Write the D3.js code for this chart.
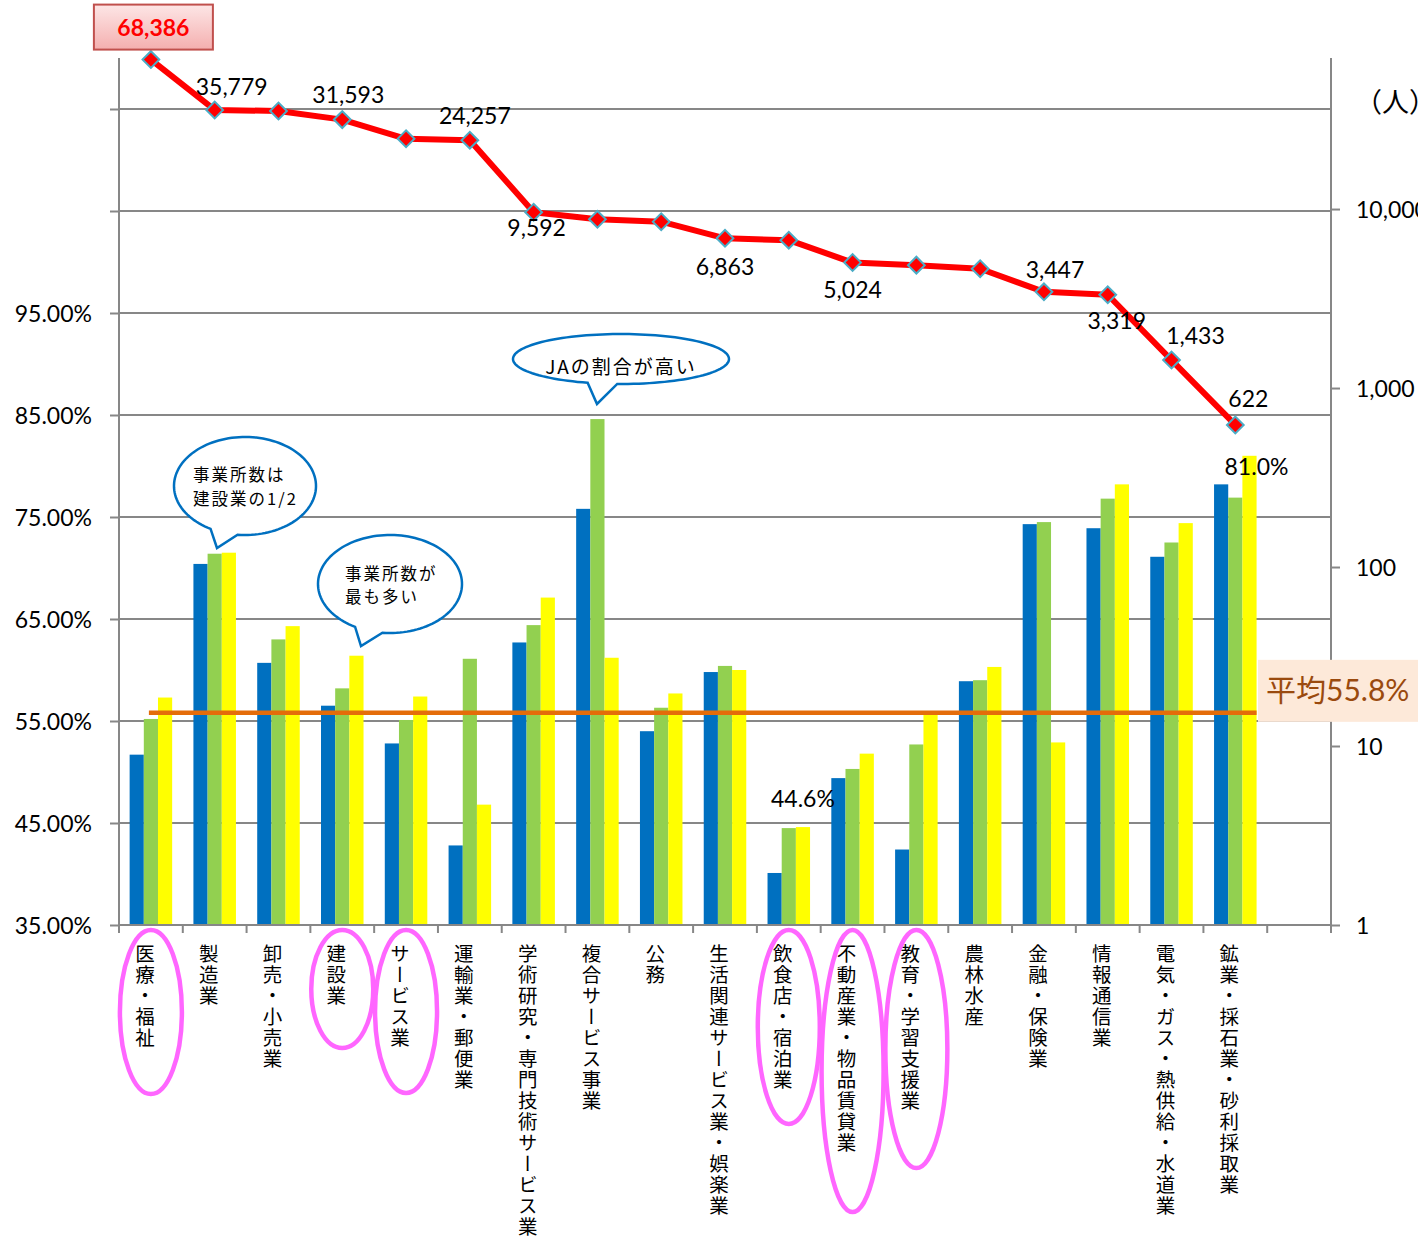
<!DOCTYPE html>
<html>
<head>
<meta charset="utf-8">
<script src="https://cdn.jsdelivr.net/npm/d3@7"></script>
<style>
  html, body { margin: 0; padding: 0; background: #fff; overflow: hidden; }
  svg { display: block; }
</style>
</head>
<body>
<svg id="chart" width="1418" height="1250"></svg>
<script>
// ---- data ----
const categories = [
  "医療・福祉", "製造業", "卸売・小売業", "建設業", "サービス業", "運輸業・郵便業",
  "学術研究・専門技術サービス業", "複合サービス事業", "公務", "生活関連サービス業・娯楽業",
  "飲食店・宿泊業", "不動産業・物品賃貸業", "教育・学習支援業", "農林水産", "金融・保険業",
  "情報通信業", "電気・ガス・熱供給・水道業", "鉱業・採石業・砂利採取業"
];
const seriesKeys = ["s1", "s2", "s3"];
const s1Values = [51.7, 70.4, 60.7, 56.5, 52.8, 42.8, 62.7, 75.8, 54.0, 59.8, 40.1, 49.4, 42.4, 58.9, 74.3, 73.9, 71.1, 78.2];
const s2Values = [55.2, 71.4, 63.0, 58.2, 55.1, 61.1, 64.4, 84.6, 56.3, 60.4, 44.5, 50.3, 52.7, 59.0, 74.5, 76.8, 72.5, 76.9];
const s3Values = [57.3, 71.5, 64.3, 61.4, 57.4, 46.8, 67.1, 61.2, 57.7, 60.0, 44.6, 51.8, 55.8, 60.3, 52.9, 78.2, 74.4, 81.0];
const workerCounts = [68386, 35779, 35300, 31593, 24700, 24257, 9592, 8760, 8500, 6863, 6700, 5024, 4860, 4640, 3447, 3319, 1433, 622];
const averageRate = 55.8;

const leftTicks = [35, 45, 55, 65, 75, 85, 95, 105, 115];
const leftTickLabels = ["35.00%", "45.00%", "55.00%", "65.00%", "75.00%", "85.00%", "95.00%", "", ""];
const rightTicks = [1, 10, 100, 1000, 10000];
const rightTickLabels = ["1", "10", "100", "1,000", "10,000"];

// ---- annotation layout ----
const countLabels = [
  { i: 1, dx: 17, dy: -15 }, { i: 3, dx: 6, dy: -17 }, { i: 5, dx: 5, dy: -16 },
  { i: 6, dx: 3, dy: 24 }, { i: 9, dx: 0, dy: 37 }, { i: 11, dx: 0, dy: 35 },
  { i: 14, dx: 11, dy: -14 }, { i: 15, dx: 9, dy: 34 }, { i: 16, dx: 24, dy: -16 },
  { i: 17, dx: 13, dy: -18 }
];
const rateLabels = [ { i: 10, key: "s3", dx: 0, dy: -20 }, { i: 17, key: "s3", dx: 7, dy: 19 } ];
const highlighted = [ { i: 0, h: 164 }, { i: 3, h: 118 }, { i: 4, h: 163 }, { i: 10, h: 194 }, { i: 11, h: 282 }, { i: 12, h: 238 } ];
const bubbles = [
  { cx: 245, cy: 486, rx: 71, ry: 49, a1: 119, a2: 96, tip: [217, 548], lines: ["事業所数は", "建設業の1/2"], tx: -52, ty: [-5, 19], size: 16.5, spacing: 2, anchor: "start" },
  { cx: 390, cy: 584, rx: 72, ry: 49, a1: 119, a2: 96, tip: [361, 646], lines: ["事業所数が", "最も多い"], tx: -45, ty: [-4, 19], size: 16.5, spacing: 2, anchor: "start" },
  { cx: 621, cy: 359, rx: 108, ry: 25, a1: 108, a2: 92, tip: [597, 404], lines: ["JAの割合が高い"], tx: 0, ty: [15], size: 19, spacing: 2, anchor: "middle" }
];

const valuesByKey = { s1: s1Values, s2: s2Values, s3: s3Values };
const colors = { s1: "#0070C0", s2: "#92D050", s3: "#FFFF00" };
const NUM_FONT = "Lato, 'Noto Sans', sans-serif";
const JP_FONT = "'Noto Sans CJK JP', 'Noto Sans CJK SC', sans-serif";
const GRID = "#878787";

const plot = { left: 119, right: 1331, top: 58, bottom: 925 };
const svg = d3.select("#chart");

// one empty slot follows the last category
const x = d3.scaleBand().domain(categories.concat([""])).range([plot.left, plot.right]);
const bw = x.bandwidth();
const xs = d3.scaleBand().domain(seriesKeys).range([0, bw]).paddingOuter(0.75);
const yL = d3.scaleLinear().domain([35, 120]).range([plot.bottom, plot.top]);
const yR = d3.scaleLog().domain([1, 69800]).range([plot.bottom, plot.top]);
const cx = i => x(categories[i]) + bw / 2;

// gridlines
svg.append("g").selectAll("line").data(leftTicks.slice(1)).join("line")
  .attr("x1", plot.left).attr("x2", plot.right)
  .attr("y1", d => yL(d)).attr("y2", d => yL(d))
  .attr("stroke", GRID).attr("stroke-width", 2);

// left axis
const axL = svg.append("g").attr("transform", `translate(${plot.left},0)`)
  .call(d3.axisLeft(yL).tickValues(leftTicks).tickSize(9).tickPadding(18)
    .tickFormat((d, i) => leftTickLabels[i]));
axL.select(".domain").attr("stroke", GRID).attr("stroke-width", 2).attr("d", `M0,${plot.top}V${plot.bottom + 7}`);
axL.selectAll(".tick line").attr("stroke", GRID).attr("stroke-width", 2);
axL.selectAll(".tick text").attr("font-family", NUM_FONT).attr("font-size", 23).attr("fill", "#000").attr("dy", "0.37em");

// right axis
const axR = svg.append("g").attr("transform", `translate(${plot.right},0)`)
  .call(d3.axisRight(yR).tickValues(rightTicks).tickSize(9).tickPadding(16)
    .tickFormat((d, i) => rightTickLabels[i]));
axR.select(".domain").attr("stroke", GRID).attr("stroke-width", 2).attr("d", `M0,${plot.top}V${plot.bottom + 7}`);
axR.selectAll(".tick line").attr("stroke", GRID).attr("stroke-width", 2);
axR.selectAll(".tick text").attr("font-family", NUM_FONT).attr("font-size", 23).attr("fill", "#000").attr("dy", "0.38em");

svg.append("text").attr("x", 1355).attr("y", 112)
  .attr("font-family", JP_FONT).attr("font-size", 27).attr("fill", "#000").text("（人）");

// bars
const groups = svg.append("g").selectAll("g").data(categories).join("g")
  .attr("transform", d => `translate(${x(d)},0)`);
groups.selectAll("rect").data((d, i) => seriesKeys.map(k => ({ k, v: valuesByKey[k][i] }))).join("rect")
  .attr("x", d => xs(d.k)).attr("width", xs.bandwidth())
  .attr("y", d => yL(d.v)).attr("height", d => yL(35) - yL(d.v))
  .attr("fill", d => colors[d.k]);

// category axis
svg.append("line").attr("x1", plot.left).attr("x2", plot.right)
  .attr("y1", plot.bottom).attr("y2", plot.bottom).attr("stroke", GRID).attr("stroke-width", 2);
svg.append("g").selectAll("line").data(x.domain().map(d => x(d)).concat([plot.right])).join("line")
  .attr("x1", d => d).attr("x2", d => d).attr("y1", plot.bottom).attr("y2", plot.bottom + 8)
  .attr("stroke", GRID).attr("stroke-width", 2);

svg.append("g").selectAll("text").data(categories).join("text")
  .attr("x", (d, i) => cx(i) - 6).attr("y", 944)
  .style("writing-mode", "vertical-rl")
  .style("letter-spacing", "1.5px")
  .attr("font-family", JP_FONT).attr("font-size", 19.5).attr("fill", "#000")
  .text(d => d);

// highlighted categories
svg.append("g").selectAll("ellipse").data(highlighted).join("ellipse")
  .attr("cx", d => cx(d.i)).attr("cy", d => 930 + d.h / 2)
  .attr("rx", 31).attr("ry", d => d.h / 2)
  .attr("fill", "none").attr("stroke", "#FF66FF").attr("stroke-width", 4.5);

// average line
const yAvg = yL(averageRate);
svg.append("line")
  .attr("x1", cx(0) - 2).attr("x2", x(categories[17]) + xs("s3") + xs.bandwidth())
  .attr("y1", yAvg).attr("y2", yAvg)
  .attr("stroke", "#E46C0A").attr("stroke-width", 4.5);
svg.append("rect").attr("x", 1258).attr("y", yAvg - 53).attr("width", 170).attr("height", 62).attr("fill", "#FDE9D9");
svg.append("text").attr("x", 1266).attr("y", yAvg - 12)
  .attr("font-family", "Lato, 'Noto Sans CJK JP', sans-serif").attr("font-size", 30).attr("fill", "#9A4A0E")
  .text(`平均${averageRate}%`);

// rate labels on bars
svg.append("g").selectAll("text").data(rateLabels).join("text")
  .attr("x", d => x(categories[d.i]) + xs(d.key) + xs.bandwidth() / 2 + d.dx)
  .attr("y", d => yL(valuesByKey[d.key][d.i]) + d.dy)
  .attr("text-anchor", "middle").attr("font-family", NUM_FONT).attr("font-size", 23).attr("fill", "#000")
  .text(d => valuesByKey[d.key][d.i].toFixed(1) + "%");

// worker count line
svg.append("path").datum(workerCounts)
  .attr("d", d3.line().x((d, i) => cx(i)).y(d => yR(d)))
  .attr("fill", "none").attr("stroke", "#FF0000").attr("stroke-width", 6).attr("stroke-linejoin", "round");
svg.append("g").selectAll("path").data(workerCounts).join("path")
  .attr("transform", (d, i) => `translate(${cx(i)},${yR(d)}) rotate(45)`)
  .attr("d", d3.symbol(d3.symbolSquare, 140))
  .attr("fill", "#FF0000").attr("stroke", "#4BACC6").attr("stroke-width", 2);

const fmt = d3.format(",");
svg.append("g").selectAll("text").data(countLabels).join("text")
  .attr("x", d => cx(d.i) + d.dx).attr("y", d => yR(workerCounts[d.i]) + d.dy)
  .attr("text-anchor", "middle").attr("font-family", NUM_FONT).attr("font-size", 23).attr("fill", "#000")
  .text(d => fmt(workerCounts[d.i]));

// highlighted maximum
const defs = svg.append("defs");
const grad = defs.append("linearGradient").attr("id", "maxFill").attr("x1", 0).attr("y1", 0).attr("x2", 0).attr("y2", 1);
grad.append("stop").attr("offset", "0%").attr("stop-color", "#FDE6E6");
grad.append("stop").attr("offset", "100%").attr("stop-color", "#F4AFAF");
const px0 = cx(0), py0 = yR(workerCounts[0]);
svg.append("rect").attr("x", px0 - 57).attr("y", py0 - 55).attr("width", 119).attr("height", 45)
  .attr("fill", "url(#maxFill)").attr("stroke", "#C0504D").attr("stroke-width", 2);
svg.append("text").attr("x", px0 + 2.5).attr("y", py0 - 24)
  .attr("text-anchor", "middle").attr("font-family", NUM_FONT).attr("font-weight", "bold")
  .attr("font-size", 23).attr("fill", "#FF0000").text(fmt(workerCounts[0]));

// speech bubbles
function bubblePath(b) {
  const a1 = b.a1 * Math.PI / 180, a2 = b.a2 * Math.PI / 180 + 2 * Math.PI;
  const pts = d3.range(0, 121).map(k => {
    const t = a1 + (a2 - a1) * k / 120;
    return [b.cx + b.rx * Math.cos(t), b.cy + b.ry * Math.sin(t)];
  });
  pts.push(b.tip);
  return d3.line()(pts) + "Z";
}
const bg = svg.append("g").selectAll("g").data(bubbles).join("g");
bg.append("path").attr("d", bubblePath)
  .attr("fill", "#fff").attr("stroke", "#0070C0").attr("stroke-width", 2.5).attr("stroke-linejoin", "miter");
bg.each(function (b) {
  const g = d3.select(this);
  b.lines.forEach((line, j) => {
    g.append("text").attr("x", b.cx + b.tx).attr("y", b.cy + b.ty[j])
      .attr("text-anchor", b.anchor)
      .style("letter-spacing", b.spacing + "px")
      .attr("font-family", JP_FONT).attr("font-size", b.size).attr("fill", "#000")
      .text(line);
  });
});
</script>
</body>
</html>
